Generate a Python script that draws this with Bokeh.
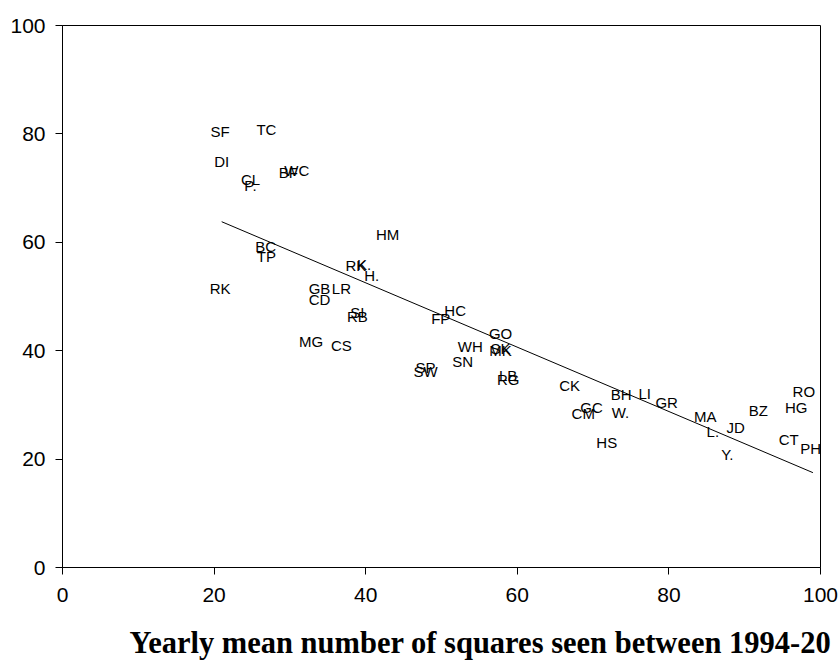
from bokeh.plotting import figure
from bokeh.models import ColumnDataSource, Range1d, FixedTicker, Title
from bokeh.core.properties import value
from bokeh.embed import file_html
from bokeh.resources import INLINE

codes = ["SF", "TC", "DI", "CL", "P.", "BF", "WC", "HM", "BC", "TP",
         "RK", "RK", "K.", "H.", "GB", "CD", "LR", "SI", "RB", "MG", "CS",
         "HC", "FP", "GO", "WH", "SK", "MK", "SN", "SP", "SW", "LB", "RG",
         "CK", "GC", "CM", "BH", "LI", "W.", "GR", "HS", "MA", "L.", "JD",
         "BZ", "RO", "HG", "CT", "PH", "Y."]
squares = [20.8, 26.9, 21.0, 24.8, 24.8, 29.8, 30.9, 42.9, 26.8, 26.9,
           20.8, 38.7, 39.8, 40.8, 33.9, 33.9, 36.8, 38.9, 38.9, 32.8, 36.8,
           51.8, 49.9, 57.8, 53.8, 57.8, 57.8, 52.8, 47.9, 47.9, 58.8, 58.8,
           66.9, 69.8, 68.7, 73.7, 76.8, 73.6, 79.7, 71.8, 84.8, 85.8, 88.8,
           91.8, 97.8, 96.8, 95.8, 98.7, 87.7]
values = [80.4, 80.8, 74.9, 71.6, 70.5, 72.9, 73.2, 61.4, 59.2, 57.4,
          51.5, 55.7, 55.9, 53.9, 51.5, 49.4, 51.5, 47.0, 46.3, 41.7, 41.0,
          47.4, 45.9, 43.2, 40.8, 40.4, 40.0, 38.0, 36.9, 36.2, 35.4, 34.7,
          33.6, 29.5, 28.4, 31.9, 32.1, 28.6, 30.4, 23.1, 27.9, 25.1, 25.8,
          29.0, 32.5, 29.5, 23.6, 22.0, 20.8]

fit_x = [21.0, 99.0]
fit_y = [63.8, 17.5]

ticks = [0, 20, 40, 60, 80, 100]
xlabel = "Yearly mean number of squares seen between 1994-20"

p = figure(frame_width=758, frame_height=542,
           min_border_left=62, min_border_top=25, min_border_right=20,
           min_border_bottom=98,
           x_range=Range1d(0, 100), y_range=Range1d(0, 100),
           output_backend="svg", toolbar_location=None)

p.xgrid.visible = False
p.ygrid.visible = False
p.outline_line_color = "black"
p.outline_line_width = 1
p.outline_line_alpha = 1
p.background_fill_color = "white"
p.border_fill_color = "white"

for ax in (p.xaxis, p.yaxis):
    ax.ticker = FixedTicker(ticks=ticks)
    ax.minor_tick_line_color = None
    ax.major_tick_in = 0
    ax.major_tick_out = 7
    ax.axis_line_color = "black"
    ax.major_tick_line_color = "black"
    ax.major_label_text_color = "black"
    ax.major_label_text_font = "Liberation Sans"
    ax.major_label_text_font_size = "21px"
p.xaxis.major_label_standoff = 13
p.yaxis.major_label_standoff = 10

src = ColumnDataSource(dict(x=squares, y=values, t=codes))
p.text(x="x", y="y", text="t", source=src, text_align="center",
       text_baseline="middle", text_font=value("Liberation Sans"),
       text_font_size="15px", text_color="black")

p.line(fit_x, fit_y, line_color="black", line_width=1)

t = Title(text=xlabel, align="left", offset=67, standoff=38,
          text_font="Liberation Serif", text_font_style="bold",
          text_font_size="30.5px", text_color="black")
p.add_layout(t, "below")

open("out.html", "w").write(file_html(p, INLINE))
